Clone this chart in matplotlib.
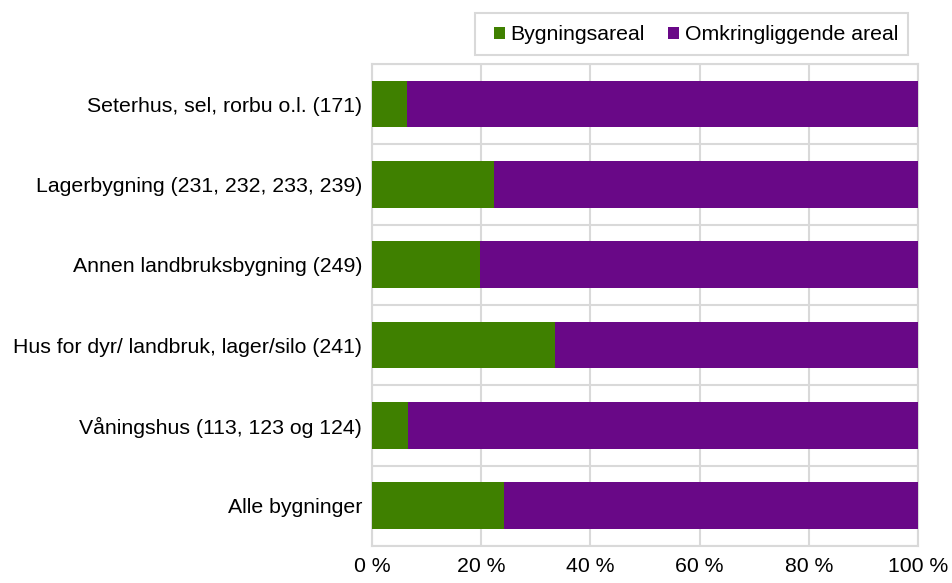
import numpy as np
import matplotlib
matplotlib.use("Agg")
import matplotlib.pyplot as plt
from matplotlib.patches import Rectangle
from matplotlib.ticker import FuncFormatter, MultipleLocator

plt.rcParams['font.family'] = ['Liberation Sans', 'DejaVu Sans']

categories = ["Alle bygninger",
              "Våningshus (113, 123 og 124)",
              "Hus for dyr/ landbruk, lager/silo (241)",
              "Annen landbruksbygning (249)",
              "Lagerbygning (231, 232, 233, 239)",
              "Seterhus, sel, rorbu o.l. (171)"]
bygning = np.array([24.2, 6.5, 33.6, 19.7, 22.4, 6.4])
omkring = 100 - bygning

green = "#3f8000"
purple = "#690887"
grid_c = "#d9d9d9"
fs = 15.3

fig = plt.figure(figsize=(9.52, 5.83), dpi=100)
ax = fig.add_axes([0.3908, 0.0635, 0.5735, 0.827])

y = np.arange(len(categories))
ax.barh(y, bygning, height=0.58, color=green, label="Bygningsareal", zorder=3)
ax.barh(y, omkring, left=bygning, height=0.58, color=purple,
        label="Omkringliggende areal", zorder=3)

ax.set_xlim(0, 100)
ax.set_ylim(-0.5, len(categories) - 0.5)
ax.xaxis.set_major_locator(MultipleLocator(20))
ax.xaxis.set_major_formatter(FuncFormatter(lambda v, p: "%d %%" % v))
ax.set_yticks(y)
ax.set_yticklabels(categories)
ax.set_yticks(np.arange(-0.5, len(categories), 1), minor=True)
ax.grid(axis="x", which="major", color=grid_c, lw=1.5, zorder=0)
ax.grid(axis="y", which="minor", color=grid_c, lw=1.5, zorder=0)
ax.tick_params(axis="both", which="both", length=0, labelsize=fs, colors="black")
ax.tick_params(axis="x", pad=8)
ax.tick_params(axis="y", pad=7)
for s in ax.spines.values():
    s.set_color(grid_c)
    s.set_linewidth(1.5)

# legend without its own frame, box drawn separately (Excel-like padding)
leg = fig.legend(loc="center right", bbox_to_anchor=(0.9433, 0.940), ncol=2,
                 fontsize=fs, frameon=False, handlelength=0.5,
                 handleheight=0.5, handletextpad=0.26, columnspacing=1.11,
                 borderpad=0, borderaxespad=0)
fig.patches.append(Rectangle((475 / 952, 1 - 55 / 583), 433 / 952, 42 / 583,
                             transform=fig.transFigure, fill=False,
                             edgecolor=grid_c, lw=1.5))

fig.savefig("out.png", dpi=100)
